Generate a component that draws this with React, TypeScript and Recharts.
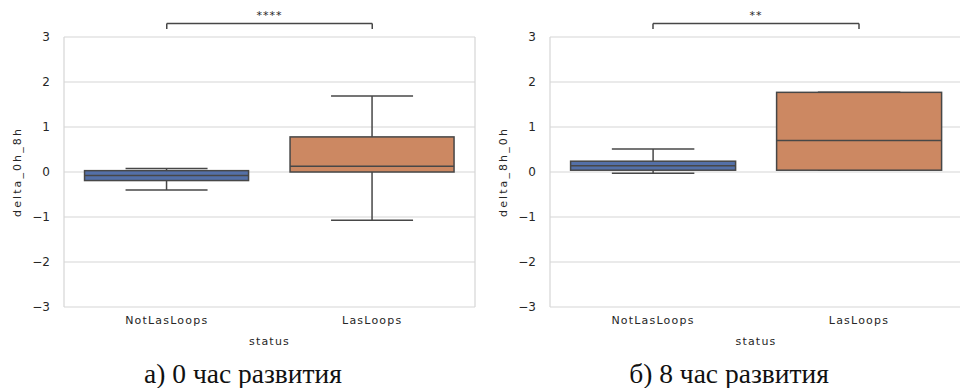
import React from 'react';
import { ComposedChart, Bar, XAxis, YAxis, CartesianGrid, ReferenceLine } from 'recharts';

// categories and box-plot statistics
const categories = ['NotLasLoops', 'LasLoops'];
const boxColors = ['#5470a8', '#cc8862'];

// panel a) delta_0h_8h
const low0h = [-0.4, -1.07];
const q1_0h = [-0.19, 0.0];
const median0h = [-0.08, 0.13];
const q3_0h = [0.03, 0.78];
const high0h = [0.08, 1.69];

// panel б) delta_8h_0h
const low8h = [-0.03, 0.04];
const q1_8h = [0.04, 0.04];
const median8h = [0.14, 0.7];
const q3_8h = [0.24, 1.77];
const high8h = [0.51, 1.77];

const yTicks = [-3, -2, -1, 0, 1, 2, 3];
const bracketY = 3.3;
const bracketTipY = 3.18;

const EDGE = '#474747';
const GRID = '#d6d6d6';
const TEXT = '#262626';
const FONT = '"DejaVu Sans", sans-serif';

interface BoxRow {
  status: string;
  low: number;
  q1: number;
  median: number;
  q3: number;
  high: number;
  color: string;
}

const buildRows = (low: number[], q1: number[], med: number[], q3: number[], high: number[]): BoxRow[] =>
  categories.map((status, i) => ({
    status,
    low: low[i],
    q1: q1[i],
    median: med[i],
    q3: q3[i],
    high: high[i],
    color: boxColors[i],
  }));

const rows0h = buildRows(low0h, q1_0h, median0h, q3_0h, high0h);
const rows8h = buildRows(low8h, q1_8h, median8h, q3_8h, high8h);

// the bar spans the whiskers; the rest is placed with the same linear scale
const BoxShape = (props: any) => {
  const { x, y, width, height, payload } = props;
  const top = Math.min(y, y + height);
  const bottom = Math.max(y, y + height);
  const span = payload.high - payload.low;
  const k = span !== 0 ? (bottom - top) / span : 0;
  const toPx = (v: number) => top + (payload.high - v) * k;
  const cx = x + width / 2;
  const capHalf = width / 4;
  const yQ1 = toPx(payload.q1);
  const yQ3 = toPx(payload.q3);
  const yMed = toPx(payload.median);
  return (
    <g>
      <line x1={cx} x2={cx} y1={top} y2={yQ3} stroke={EDGE} strokeWidth={1.5} />
      <line x1={cx} x2={cx} y1={yQ1} y2={bottom} stroke={EDGE} strokeWidth={1.5} />
      <line x1={cx - capHalf} x2={cx + capHalf} y1={top} y2={top} stroke={EDGE} strokeWidth={1.5} />
      <line x1={cx - capHalf} x2={cx + capHalf} y1={bottom} y2={bottom} stroke={EDGE} strokeWidth={1.5} />
      <rect x={x} y={yQ3} width={width} height={Math.max(yQ1 - yQ3, 0.5)} fill={payload.color} stroke={EDGE} strokeWidth={1.5} />
      <line x1={x} x2={x + width} y1={yMed} y2={yMed} stroke={EDGE} strokeWidth={1.5} />
    </g>
  );
};

const minusFmt = (v: number) => String(v).replace('-', '\u2212');

interface PanelProps {
  rows: BoxRow[];
  yLabel: string;
  stars: string;
  width: number;
  yAxisWidth: number;
  rightMargin: number;
  labelOffset: number;
}

const Panel: React.FC<PanelProps> = ({ rows, yLabel, stars, width, yAxisWidth, rightMargin, labelOffset }) => (
  <ComposedChart
    width={width}
    height={388}
    data={rows}
    margin={{ top: 37, right: rightMargin, bottom: 41, left: 0 }}
    barCategoryGap="10%"
    style={{ fontFamily: FONT }}
  >
    <CartesianGrid
      stroke={GRID}
      strokeWidth={1.2}
      verticalCoordinatesGenerator={({ offset }: any) => [offset.left, offset.left + offset.width]}
    />
    <XAxis
      dataKey="status"
      type="category"
      axisLine={false}
      tickLine={false}
      tickMargin={3}
      height={40}
      tick={{ fill: TEXT, fontSize: 11, letterSpacing: 1.2 }}
      label={{ value: 'status', position: 'insideBottom', offset: 2, fill: TEXT, fontSize: 11, style: { letterSpacing: 1.2 } }}
    />
    <YAxis
      type="number"
      domain={[-3, 3]}
      ticks={yTicks}
      allowDataOverflow
      axisLine={false}
      tickLine={false}
      tickMargin={8}
      width={yAxisWidth}
      tickFormatter={minusFmt}
      tick={{ fill: TEXT, fontSize: 12 }}
      label={{
        value: yLabel,
        angle: -90,
        position: 'insideLeft',
        offset: labelOffset,
        fill: TEXT,
        fontSize: 11,
        style: { textAnchor: 'middle', letterSpacing: 2.1 },
      }}
    />
    <Bar
      dataKey={(d: BoxRow) => [d.low, d.high]}
      shape={<BoxShape />}
      isAnimationActive={false}
    />
    <ReferenceLine
      segment={[{ x: categories[0], y: bracketY }, { x: categories[1], y: bracketY }]}
      stroke={EDGE}
      strokeWidth={1.5}
      ifOverflow="visible"
      label={{ value: stars, position: 'top', offset: 5, fill: TEXT, fontSize: 11, style: { letterSpacing: 1 } }}
    />
    <ReferenceLine
      segment={[{ x: categories[0], y: bracketY }, { x: categories[0], y: bracketTipY }]}
      stroke={EDGE}
      strokeWidth={1.5}
      ifOverflow="visible"
    />
    <ReferenceLine
      segment={[{ x: categories[1], y: bracketY }, { x: categories[1], y: bracketTipY }]}
      stroke={EDGE}
      strokeWidth={1.5}
      ifOverflow="visible"
    />
  </ComposedChart>
);

const captionStyle: React.CSSProperties = {
  position: 'absolute',
  top: 360,
  width: 300,
  textAlign: 'center',
  fontFamily: '"Liberation Serif", serif',
  fontSize: 27.5,
  lineHeight: '27px',
  color: '#111',
  whiteSpace: 'nowrap',
};

export default function App() {
  return (
    <div style={{ position: 'absolute', left: 0, top: 0, width: 960, height: 388, overflow: 'hidden', background: '#fff' }}>
      <div style={{ position: 'absolute', left: 0, top: 0 }}>
        <Panel rows={rows0h} yLabel="delta_0h_8h" stars="****" width={480} yAxisWidth={64} rightMargin={5} labelOffset={17} />
      </div>
      <div style={{ position: 'absolute', left: 480, top: 0 }}>
        <Panel rows={rows8h} yLabel="delta_8h_0h" stars="**" width={482} yAxisWidth={70} rightMargin={0} labelOffset={23} />
      </div>
      <div style={{ ...captionStyle, left: 243 - 150 }}>а) 0 час развития</div>
      <div style={{ ...captionStyle, left: 729 - 150 }}>б) 8 час развития</div>
    </div>
  );
}
